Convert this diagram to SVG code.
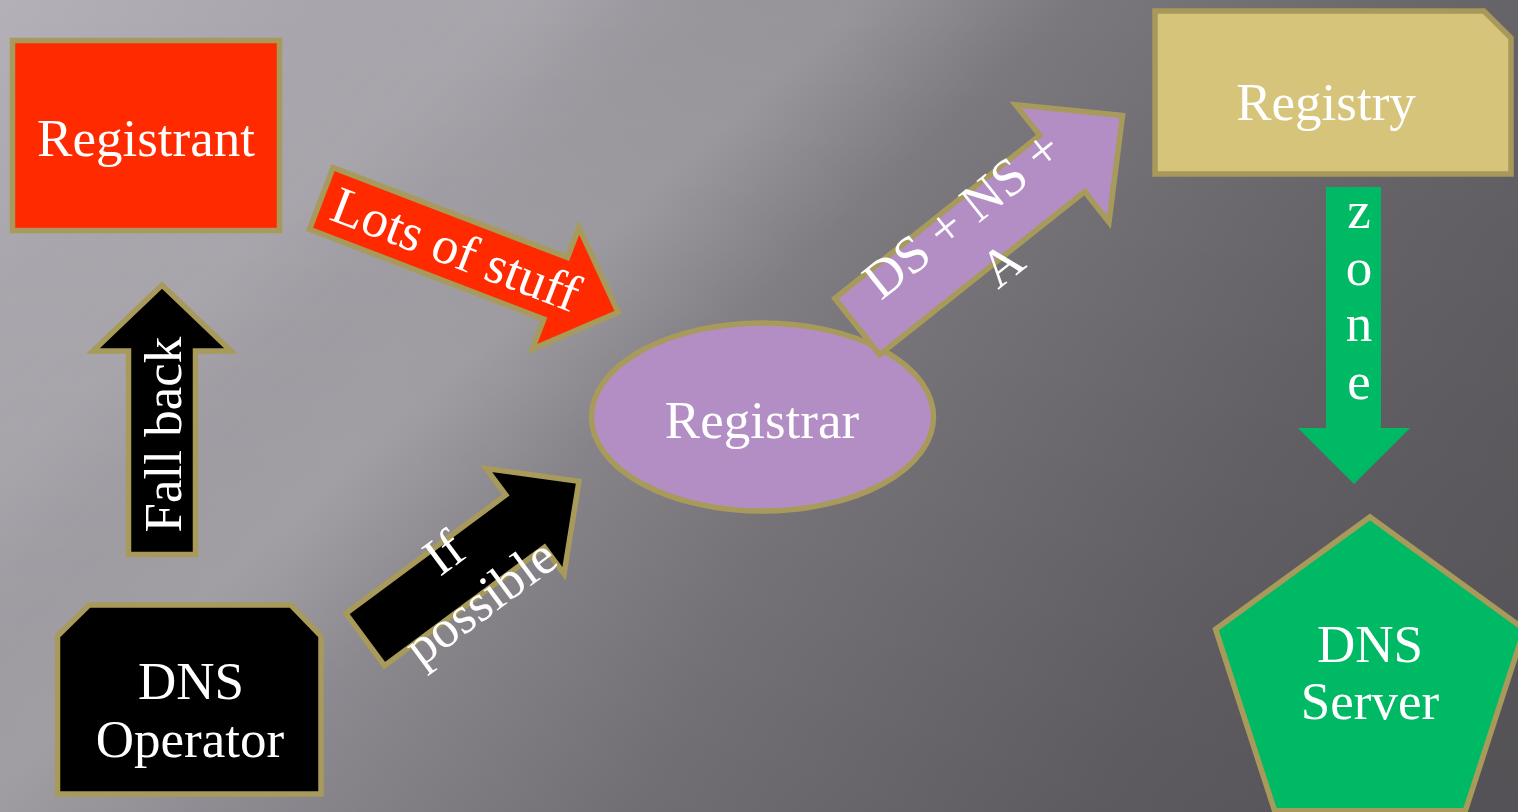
<svg xmlns="http://www.w3.org/2000/svg" width="1518" height="812" viewBox="0 0 1518 812">
<defs>
<linearGradient id="bg" gradientUnits="userSpaceOnUse" x1="0" y1="0" x2="1518" y2="700">
<stop offset="0" stop-color="#b3b0b7"/>
<stop offset="0.3" stop-color="#a09da4"/>
<stop offset="0.55" stop-color="#7d7a80"/>
<stop offset="0.8" stop-color="#67646a"/>
<stop offset="1" stop-color="#5d5b5f"/>
</linearGradient>
<linearGradient id="streak" gradientUnits="userSpaceOnUse" x1="290" y1="318" x2="491" y2="540">
<stop offset="0" stop-color="#ffffff" stop-opacity="0"/>
<stop offset="0.5" stop-color="#ffffff" stop-opacity="0.12"/>
<stop offset="1" stop-color="#ffffff" stop-opacity="0"/>
</linearGradient>
<linearGradient id="streak2" gradientUnits="userSpaceOnUse" x1="140" y1="160" x2="320" y2="360">
<stop offset="0" stop-color="#ffffff" stop-opacity="0"/>
<stop offset="0.5" stop-color="#ffffff" stop-opacity="0.07"/>
<stop offset="1" stop-color="#ffffff" stop-opacity="0"/>
</linearGradient>
<linearGradient id="shade" x1="0" y1="0" x2="0" y2="1">
<stop offset="0" stop-color="#000" stop-opacity="0"/>
<stop offset="1" stop-color="#000" stop-opacity="0.1"/>
</linearGradient>
<style>
.lbl{font-family:"Liberation Serif","Times New Roman",serif;font-size:53px;fill:#ffffff;text-anchor:middle}
.gold{stroke:#a89a5b;stroke-width:5.5;stroke-linejoin:miter}
.red{fill:#ff2a00}
.purple{fill:#b38ec4}
.green{fill:#00b964}
.black{fill:#000000}
.tan{fill:#d6c47a;stroke:#a8985a;stroke-width:5.5}
</style>
</defs>
<g id="background">
<rect x="0" y="0" width="1518" height="812" fill="url(#bg)"/>
<rect x="0" y="0" width="1518" height="812" fill="url(#streak)"/>
<rect x="0" y="0" width="1518" height="812" fill="url(#streak2)"/>
<rect x="0" y="0" width="1518" height="812" fill="url(#shade)"/>
</g>
<g id="registrant">
<rect x="12.5" y="40.5" width="267" height="190" class="red gold"/>
<text class="lbl" x="146" y="156">Registrant</text>
</g>
<g id="registrar">
<ellipse cx="762.5" cy="417" rx="171" ry="94" class="purple gold"/>
<text class="lbl" x="762" y="438">Registrar</text>
</g>
<g id="registry">
<polygon points="1155,11 1484,11 1511,38 1511,174 1155,174" class="tan"/>
<text class="lbl" x="1326" y="120">Registry</text>
</g>
<g id="dns-operator">
<polygon points="57.5,636 89,605 291,605 321,636 321,794 57.5,794" class="black gold"/>
<text class="lbl" x="191" y="699">DNS</text>
<text class="lbl" x="190" y="757">Operator</text>
</g>
<g id="dns-server">
<polygon points="1370,517 1524.4,629.2 1465.4,810.7 1274.6,810.7 1215.6,629.2" class="green gold"/>
<text class="lbl" x="1370" y="662">DNS</text>
<text class="lbl" x="1370" y="719">Server</text>
</g>
<g id="connectors">
<g id="arrow-lots-of-stuff" transform="translate(332,165) rotate(21)">
<path d="M2,2 L253,2 L253,-30 L320,35 L253,100 L253,68 L2,68 Z" class="red gold"/>
<text class="lbl" x="146" y="52">Lots of stuff</text>
</g>
<g id="arrow-fall-back">
<path d="M162,285 L231,351 L195.5,351 L195.5,554.5 L128.5,554.5 L128.5,351 L93,351 Z" class="black gold"/>
<text class="lbl" transform="translate(181,434.5) rotate(-90)" x="0" y="0">Fall back</text>
</g>
<g id="arrow-if-possible" transform="translate(343,613) rotate(-36.5)">
<path d="M2,2 L201,2 L201,-31 L268,34.5 L201,100 L201,67 L2,67 Z" class="black gold"/>
<text class="lbl" x="117" y="29">If</text>
<text class="lbl" x="117" y="90">possible</text>
</g>
<g id="arrow-ds-ns-a" transform="translate(832,298) rotate(-38.5)">
<path d="M2,2 L264,2 L264,-37 L341,38 L264,113 L264,74 L2,74 Z" class="purple gold"/>
<text class="lbl" x="154" y="33">DS + NS +</text>
<text class="lbl" x="154" y="97">A</text>
</g>
<g id="arrow-zone">
<polygon points="1326,187 1381,187 1381,428 1410,428 1354,484 1298,428 1326,428" class="green"/>
<text class="lbl" x="1359" y="228">z</text>
<text class="lbl" x="1359" y="285">o</text>
<text class="lbl" x="1359" y="341">n</text>
<text class="lbl" x="1359" y="399">e</text>
</g>
</g>
</svg>
